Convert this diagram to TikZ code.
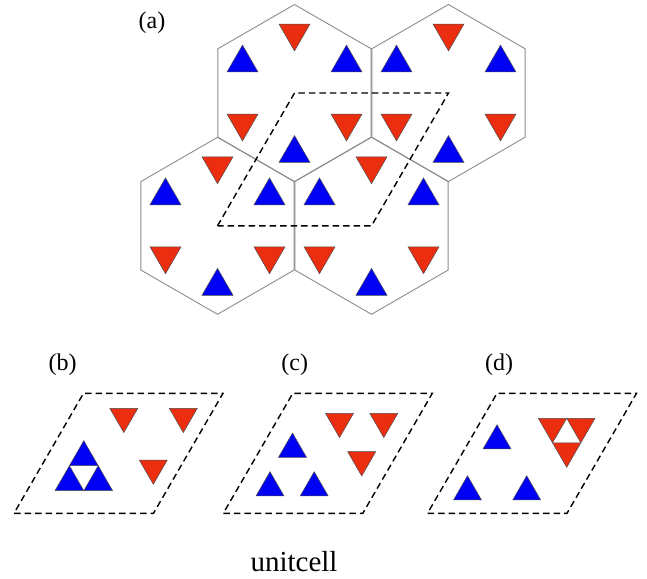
\documentclass[tikz,border=0pt]{standalone}
\usepackage{fontspec}
\setmainfont{Liberation Serif}
\begin{document}
\begin{tikzpicture}[x=1pt,y=-1pt]
\definecolor{tred}{RGB}{236,46,16}
\definecolor{tblue}{RGB}{0,0,245}
\tikzset{
  hexline/.style={draw=gray!90, line width=0.9pt, line join=miter},
  cellline/.style={draw=black, line width=1.4pt, dash pattern=on 6.5pt off 4pt},
  upT/.style={fill=tblue, draw=gray!60!black, line width=0.5pt},
  dnT/.style={fill=tred, draw=gray!60!black, line width=0.5pt},
  lab/.style={font=\fontsize{24}{28}\selectfont, inner sep=0pt},
  biglab/.style={font=\fontsize{29}{34}\selectfont, inner sep=0pt}
}
\newcommand\mytriup[3]{\path[upT] ({#1},{#2-#3*0.57735}) -- ({#1+#3/2},{#2+#3*0.288675}) -- ({#1-#3/2},{#2+#3*0.288675}) -- cycle;}
\newcommand\mytridn[3]{\path[dnT] ({#1},{#2+#3*0.57735}) -- ({#1+#3/2},{#2-#3*0.288675}) -- ({#1-#3/2},{#2-#3*0.288675}) -- cycle;}
\newcommand\myhex[2]{%
  \draw[hexline] (#1,#2) ++(0,-88.5) -- ++(76.6,44.25) -- ++(0,88.5) -- ++(-76.6,44.25) -- ++(-76.6,-44.25) -- ++(0,-88.5) -- cycle;
  \mytriup{#1+52}{#2-30}{31}
  \mytriup{#1-52}{#2-30}{31}
  \mytriup{#1}{#2+60.5}{31}
  \mytridn{#1}{#2-60}{31}
  \mytridn{#1-52}{#2+30}{31}
  \mytridn{#1+52}{#2+30}{31}
}
\newcommand\mycell[1]{%
  \draw[cellline] (#1,513.3) -- (#1+139.5,513.3) -- (#1+209,393.3) -- (#1+69.5,393.3) -- cycle;
}
\useasboundingbox (0,0) rectangle (647,578);
\fill[white] (0,0) rectangle (647,578);

% (a) lattice
\myhex{294.5}{93}
\myhex{448.5}{93}
\myhex{217.5}{225.8}
\myhex{371.5}{225.8}
\coordinate (h1) at (294.5,93);
\coordinate (h2) at (448.5,93);
\coordinate (h3) at (217.5,225.8);
\coordinate (h4) at (371.5,225.8);
\draw[cellline] (h3) -- (h1) -- (h2) -- (h4) -- cycle;
\node[lab] (la) at (152,23) {(a)};

% (b)
\mycell{14}
\mytridn{123.8}{416.4}{28}
\mytridn{183.3}{416.4}{28}
\mytridn{153.3}{468.1}{28}
\coordinate (bT) at (83.8,440.7);
\coordinate (bL) at (55,490.7);
\coordinate (bR) at (112.6,490.7);
\coordinate (bML) at (69.4,465.7);
\coordinate (bMR) at (98.2,465.7);
\coordinate (bMB) at (83.8,490.7);
\path[upT] (bT) -- (bMR) -- (bML) -- cycle;
\path[upT] (bML) -- (bMB) -- (bL) -- cycle;
\path[upT] (bMR) -- (bR) -- (bMB) -- cycle;
\node[lab] (lb) at (62.5,365) {(b)};

% (c)
\mycell{223.3}
\mytridn{339.5}{421.4}{28}
\mytridn{383.8}{421.4}{28}
\mytridn{361.7}{459.8}{28}
\mytriup{292.5}{449.2}{28}
\mytriup{270}{487.9}{28}
\mytriup{314.2}{487.9}{28}
\node[lab] (lc) at (294.7,365) {(c)};

% (d)
\mycell{427.5}
\mytriup{497}{440.9}{28}
\mytriup{467.5}{491.9}{28}
\mytriup{526.7}{491.9}{28}
\coordinate (dTL) at (538.3,418.3);
\coordinate (dTR) at (595,418.3);
\coordinate (dB) at (566.7,467.3);
\coordinate (dMT) at (566.7,418.3);
\coordinate (dML) at (552.5,442.8);
\coordinate (dMR) at (580.8,442.8);
\path[dnT] (dTL) -- (dMT) -- (dML) -- cycle;
\path[dnT] (dMT) -- (dTR) -- (dMR) -- cycle;
\path[dnT] (dML) -- (dMR) -- (dB) -- cycle;
\node[lab] (ld) at (499,365) {(d)};

\node[biglab, anchor=base] (lu) at (294,571.7) {unitcell};
\end{tikzpicture}
\end{document}
